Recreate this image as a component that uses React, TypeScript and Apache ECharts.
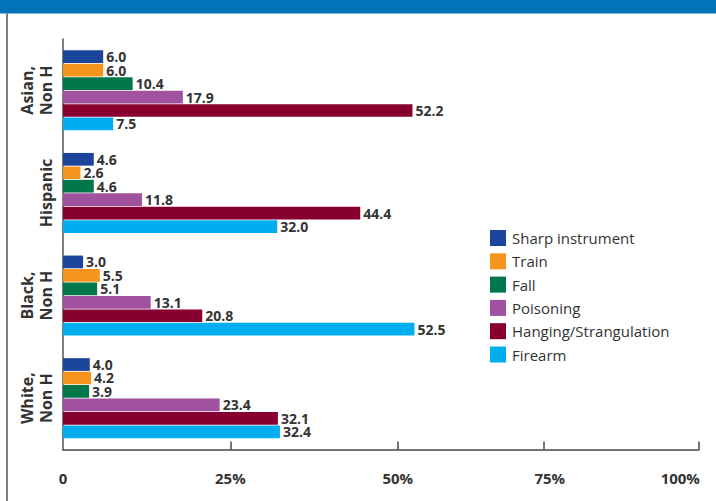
import React, { useEffect, useRef } from "react";
import * as echarts from "echarts";

const groups = ["Asian,\nNon H", "Hispanic", "Black,\nNon H", "White,\nNon H"];
const seriesNames = ["Sharp instrument", "Train", "Fall", "Poisoning", "Hanging/Strangulation", "Firearm"];
const sharp = [6.0, 4.6, 3.0, 4.0];
const train = [6.0, 2.6, 5.5, 4.2];
const fall = [10.4, 4.6, 5.1, 3.9];
const poisoning = [17.9, 11.8, 13.1, 23.4];
const hanging = [52.2, 44.4, 20.8, 32.1];
const firearm = [7.5, 32.0, 52.5, 32.4];
const colors = ["#1b449b", "#f7941e", "#00774a", "#a0529f", "#880030", "#00aeef"];
const tickPositions = [25, 50, 71.8, 95];
const labelPositions = [0, 25, 50, 72.7, 92.2];
const tickLabels = ["0", "25%", "50%", "75%", "100%"];

const FONT = "'Open Sans', 'Noto Sans', sans-serif";

export default function App() {
  const ref = useRef<HTMLDivElement>(null);
  useEffect(() => {
    if (!ref.current) return;
    const chart = echarts.init(ref.current, null, { renderer: "svg" });
    const values = [sharp, train, fall, poisoning, hanging, firearm];
    chart.setOption({
      animation: false,
      backgroundColor: "#ffffff",
      textStyle: { fontFamily: FONT },
      graphic: [
        { type: "rect", left: 0, top: 0, shape: { width: 716, height: 13.5 }, style: { fill: "#0073bb" } },
        { type: "line", shape: { x1: 7, y1: 13.5, x2: 7, y2: 501 }, style: { stroke: "#555555", lineWidth: 1.5 } },
      ],
      grid: { left: 63, right: 17, top: 39, bottom: 51.5, containLabel: false, outerBoundsMode: "none" },
      legend: {
        orient: "vertical",
        left: 490,
        top: 230,
        padding: 0,
        itemWidth: 16,
        itemHeight: 16,
        itemGap: 7.3,
        icon: "rect",
        data: seriesNames,
        textStyle: { fontFamily: FONT, fontSize: 15, color: "#333333", padding: [0, 0, 0, 1] },
      },
      xAxis: {
        type: "value",
        min: 0,
        max: 95,
        splitLine: { show: false },
        axisLine: { show: true, lineStyle: { color: "#444444", width: 1.5 } },
        axisTick: {
          show: true,
          inside: true,
          length: 8,
          customValues: tickPositions,
          lineStyle: { color: "#444444", width: 1.5 },
        },
        axisLabel: {
          customValues: labelPositions,
          formatter: (v: number) => {
            const i = labelPositions.findIndex((p) => Math.abs(p - v) < 1e-6);
            return i >= 0 ? tickLabels[i] : "";
          },
          margin: 21,
          fontSize: 15,
          fontWeight: "bold",
          color: "#333333",
          fontFamily: FONT,
        },
      },
      yAxis: {
        type: "category",
        inverse: true,
        data: groups,
        axisLine: { show: true, lineStyle: { color: "#555555", width: 1.5 } },
        axisTick: { show: false },
        axisLabel: {
          rotate: 90,
          margin: 8,
          fontSize: 16,
          lineHeight: 19,
          fontWeight: "bold",
          color: "#333333",
          fontFamily: FONT,
          align: "center",
        },
      },
      series: seriesNames.map((name, i) => ({
        name,
        type: "bar",
        data: values[i],
        barWidth: 12.7,
        barGap: "6%",
        itemStyle: { color: colors[i] },
        label: {
          show: true,
          position: "right",
          distance: 3,
          formatter: (p: any) => Number(p.value).toFixed(1),
          fontSize: 14,
          lineHeight: 12.5,
          fontWeight: "bold",
          color: "#333333",
          fontFamily: FONT,
        },
      })),
    });
    return () => chart.dispose();
  }, []);
  return (
    <div
      ref={ref}
      style={{ position: "absolute", left: 0, top: 0, width: 716, height: 501 }}
    />
  );
}
